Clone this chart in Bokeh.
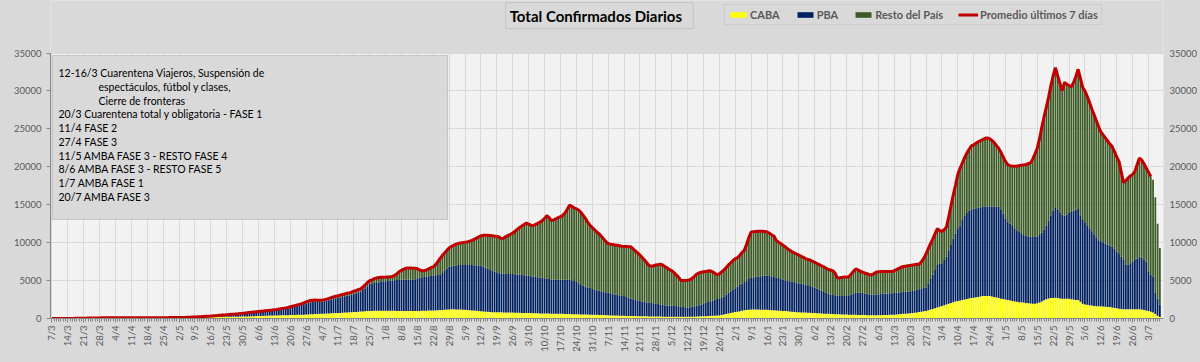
import math
import numpy as np
import pandas as pd
from bokeh.plotting import figure
from bokeh.models import (ColumnDataSource, Range1d, LinearAxis, FixedTicker, Legend, LegendItem,
                          Label, BoxAnnotation, GlobalInlineStyleSheet)
from bokeh.embed import file_html
from bokeh.resources import INLINE

# ---------------- DATA ----------------
fecha_inicio = "2020-03-07"
ultimo_dia_promedio = "2021-07-04"

titulo = "Total  Confirmados  Diarios"
series = ["CABA", "PBA", "Resto del País"]
nombre_promedio = "Promedio últimos 7 días"
valores_eje = [0, 5000, 10000, 15000, 20000, 25000, 30000, 35000]

notas = [
    "12-16/3  Cuarentena Viajeros, Suspensión de",
    "espectáculos, fútbol y clases,",
    "Cierre de fronteras",
    "20/3 Cuarentena total y obligatoria - FASE 1",
    "11/4 FASE 2",
    "27/4 FASE 3",
    "11/5 AMBA FASE 3 - RESTO FASE 4",
    "8/6 AMBA FASE 3 - RESTO FASE 5",
    "1/7 AMBA FASE 1",
    "20/7 AMBA FASE 3",
]

total_confirmados = [
    1, 2, 2, 3, 4, 5, 8,
    10, 12, 16, 20, 25, 30, 35,
    40, 48, 55, 62, 68, 72, 76,
    80, 85, 90, 95, 100, 104, 108,
    110, 112, 110, 108, 112, 110, 110,
    110, 108, 105, 102, 100, 100, 100,
    100, 98, 102, 105, 104, 106, 108,
    110, 112, 115, 118, 120, 124, 127,
    130, 138, 146, 155, 165, 175, 188,
    200, 215, 232, 250, 270, 290, 310,
    330, 352, 375, 400, 425, 450, 475,
    500, 525, 550, 575, 600, 625, 655,
    680, 710, 745, 780, 815, 850, 885,
    920, 955, 990, 1030, 1060, 1080, 1110,
    1150, 1190, 1240, 1290, 1340, 1400, 1470,
    1550, 1620, 1700, 1780, 1860, 1950, 2050,
    2200, 2300, 2380, 2420, 2430, 2420, 2420,
    2430, 2480, 2560, 2650, 2750, 2850, 2950,
    3000, 3080, 3160, 3240, 3320, 3380, 3480,
    3600, 3700, 3820, 3900, 4150, 4450, 4750,
    4980, 5100, 5250, 5350, 5420, 5440, 5450,
    5460, 5480, 5500, 5550, 5700, 5900, 6200,
    6350, 6500, 6630, 6650, 6650, 6640, 6630,
    6550, 6400, 6280, 6300, 6400, 6550, 6720,
    6800, 7100, 7500, 7930, 8300, 8650, 9000,
    9320, 9500, 9650, 9800, 9880, 9950, 10000,
    10050, 10100, 10200, 10300, 10450, 10600, 10750,
    10900, 10960, 10980, 10960, 10940, 10900, 10850,
    10800, 10750, 10530, 10600, 10800, 10950, 11100,
    11270, 11500, 11750, 12000, 12200, 12400, 12570,
    12450, 12300, 12260, 12400, 12550, 12700, 12910,
    13200, 13560, 13300, 12910, 13000, 13150, 13300,
    13430, 13600, 13900, 14400, 14950, 14800, 14600,
    14450, 14300, 14000, 13600, 13200, 12700, 12300,
    12000, 11700, 11400, 11180, 10850, 10500, 10150,
    9880, 9800, 9750, 9700, 9650, 9600, 9530,
    9500, 9480, 9460, 9450, 9200, 8900, 8650,
    8360, 8050, 7700, 7350, 6980, 6900, 6950,
    7050, 7100, 7150, 7050, 6850, 6650, 6450,
    6300, 6050, 5750, 5450, 5030, 5000, 5020,
    5050, 5110, 5300, 5550, 5850, 6000, 6100,
    6150, 6200, 6250, 6280, 6150, 5950, 5760,
    5900, 6150, 6400, 6700, 7060, 7350, 7650,
    7900, 8020, 8350, 8700, 9010, 9800, 10700,
    11400, 11450, 11480, 11500, 11500, 11490, 11480,
    11400, 11250, 11050, 10880, 10310, 10100, 9900,
    9660, 9450, 9200, 9000, 8800, 8650, 8500,
    8350, 8200, 8050, 7900, 7800, 7710, 7550,
    7400, 7250, 7100, 6950, 6800, 6630, 6450,
    6400, 6280, 5950, 5330, 5380, 5420, 5460,
    5480, 5500, 5850, 6200, 6540, 6400, 6250,
    6110, 6000, 5900, 5800, 5760, 5900, 6110,
    6150, 6180, 6200, 6210, 6200, 6200, 6200,
    6300, 6450, 6600, 6750, 6850, 6900, 6950,
    7000, 7050, 7100, 7150, 7150, 7500, 7930,
    8500, 9200, 9880, 10500, 11200, 11830, 11600,
    11480, 11700, 12050, 13400, 14860, 16300, 17600,
    18980, 19800, 20500, 21200, 21800, 22300, 22750,
    22900, 23100, 23300, 23450, 23600, 23750, 23800,
    23710, 23500, 23200, 22800, 22450, 21900, 21300,
    20700, 20280, 20150, 20100, 20060, 20100, 20150,
    20200, 20250, 20300, 20400, 20500, 21000, 21700,
    22450, 23700, 25200, 26600, 27860, 29200, 30700,
    32000, 33060, 32000, 31000, 30030, 31110, 30900,
    30700, 30550, 31100, 31900, 32850, 31700, 30460,
    30000, 29300, 28500, 27650, 26900, 26100, 25300,
    24610, 24200, 23800, 23400, 23000, 22660, 22000,
    21300, 20710, 19300, 17900, 18200, 18500, 18800,
    19000, 19410, 20300, 21150, 20900, 20400, 19850,
    19300, 18700, 18300, 16000, 12500, 9300,
]

caba = [
    1, 1, 1, 2, 2, 2, 3,
    4, 5, 6, 8, 9, 11, 13,
    15, 17, 19, 21, 23, 25, 28,
    30, 31, 32, 33, 34, 35, 35,
    35, 36, 35, 34, 35, 36, 35,
    35, 35, 34, 34, 35, 35, 35,
    35, 36, 38, 40, 41, 43, 44,
    45, 47, 49, 52, 54, 56, 58,
    60, 65, 70, 76, 82, 88, 94,
    100, 110, 120, 130, 140, 150, 160,
    170, 180, 190, 200, 210, 218, 225,
    230, 233, 236, 240, 243, 246, 248,
    250, 260, 270, 280, 295, 305, 318,
    330, 340, 350, 360, 370, 380, 390,
    400, 407, 414, 421, 428, 435, 442,
    450, 460, 470, 480, 490, 500, 510,
    520, 535, 550, 565, 580, 595, 610,
    620, 635, 650, 665, 680, 695, 710,
    720, 740, 760, 780, 800, 820, 835,
    850, 870, 890, 910, 930, 950, 975,
    1000, 1005, 1010, 1015, 1020, 1020, 1020,
    1020, 1018, 1015, 1010, 1008, 1005, 1002,
    1000, 1000, 1000, 1000, 1000, 1000, 1000,
    1000, 1005, 1010, 1020, 1030, 1040, 1045,
    1050, 1070, 1090, 1110, 1130, 1160, 1180,
    1200, 1205, 1210, 1200, 1190, 1180, 1165,
    1150, 1130, 1100, 1070, 1040, 1010, 980,
    950, 920, 900, 880, 860, 840, 830,
    820, 815, 810, 800, 795, 790, 785,
    780, 770, 760, 750, 740, 730, 725,
    720, 710, 700, 690, 680, 670, 660,
    650, 648, 645, 640, 635, 630, 625,
    620, 610, 600, 590, 580, 575, 570,
    560, 550, 540, 530, 520, 515, 505,
    500, 490, 480, 470, 455, 445, 430,
    420, 410, 400, 390, 380, 370, 360,
    350, 345, 340, 330, 320, 315, 305,
    300, 295, 290, 285, 275, 270, 265,
    260, 255, 250, 245, 240, 235, 232,
    230, 228, 226, 224, 222, 221, 220,
    220, 225, 230, 240, 255, 270, 285,
    300, 310, 320, 330, 350, 370, 385,
    400, 450, 520, 590, 660, 740, 800,
    850, 900, 960, 1020, 1080, 1130, 1160,
    1170, 1175, 1175, 1170, 1165, 1160, 1155,
    1150, 1130, 1100, 1080, 1050, 1030, 1010,
    1000, 975, 950, 920, 890, 860, 840,
    820, 805, 790, 775, 760, 745, 735,
    720, 700, 680, 660, 640, 620, 610,
    600, 590, 575, 560, 550, 540, 530,
    520, 510, 500, 490, 480, 470, 460,
    450, 445, 440, 438, 435, 432, 430,
    430, 435, 445, 455, 465, 480, 490,
    500, 520, 550, 580, 610, 640, 665,
    690, 720, 760, 800, 850, 900, 950,
    1000, 1080, 1170, 1260, 1360, 1460, 1560,
    1650, 1750, 1850, 1950, 2050, 2150, 2230,
    2300, 2380, 2450, 2510, 2580, 2650, 2700,
    2750, 2800, 2850, 2900, 2950, 2950, 2950,
    2950, 2900, 2850, 2780, 2700, 2620, 2560,
    2500, 2450, 2400, 2300, 2250, 2200, 2150,
    2150, 2100, 2050, 2000, 1980, 1960, 1950,
    2000, 2100, 2250, 2400, 2550, 2650, 2700,
    2700, 2730, 2700, 2650, 2600, 2600, 2600,
    2600, 2550, 2500, 2450, 2430, 2200, 1950,
    1860, 1800, 1750, 1700, 1650, 1620, 1600,
    1600, 1570, 1540, 1520, 1500, 1450, 1400,
    1350, 1300, 1260, 1230, 1210, 1210, 1210,
    1210, 1210, 1210, 1210, 1180, 1120, 1060,
    1000, 900, 780, 600, 350, 200,
]

pba = [
    0, 1, 1, 1, 2, 2, 3,
    4, 5, 7, 8, 11, 13, 15,
    15, 19, 22, 25, 28, 29, 30,
    30, 32, 34, 36, 38, 40, 42,
    45, 46, 46, 46, 48, 48, 48,
    48, 47, 46, 45, 44, 44, 44,
    44, 43, 44, 45, 45, 46, 47,
    48, 49, 50, 51, 52, 54, 55,
    56, 58, 60, 63, 66, 70, 75,
    80, 85, 92, 99, 107, 116, 125,
    135, 145, 157, 170, 183, 197, 212,
    228, 245, 262, 280, 298, 316, 340,
    365, 385, 410, 435, 455, 475, 495,
    515, 535, 555, 580, 595, 605, 620,
    650, 680, 715, 750, 790, 835, 890,
    960, 1015, 1075, 1135, 1195, 1265, 1345,
    1470, 1540, 1590, 1610, 1600, 1580, 1570,
    1570, 1600, 1660, 1730, 1800, 1880, 1950,
    1990, 2040, 2090, 2140, 2190, 2220, 2290,
    2400, 2470, 2560, 2620, 2820, 3050, 3290,
    3600, 3645, 3660, 3665, 3730, 3800, 3880,
    3900, 3930, 3965, 3990, 4020, 4055, 4080,
    4100, 4110, 4110, 4120, 4130, 4140, 4160,
    4300, 4415, 4440, 4460, 4490, 4520, 4555,
    4600, 4630, 4640, 4650, 4870, 5140, 5420,
    5650, 5695, 5740, 5800, 5870, 5880, 5895,
    5910, 5930, 5950, 5980, 5990, 6010, 6020,
    6000, 5930, 5800, 5670, 5550, 5460, 5370,
    5280, 5165, 5140, 5120, 5105, 5090, 5075,
    5070, 5050, 5030, 5010, 4990, 4970, 4945,
    4880, 4850, 4820, 4790, 4760, 4730, 4700,
    4650, 4600, 4555, 4510, 4475, 4480, 4485,
    4480, 4490, 4510, 4520, 4520, 4475, 4380,
    4240, 4100, 3960, 3820, 3680, 3585, 3525,
    3400, 3310, 3240, 3180, 3125, 3055, 3020,
    2980, 2910, 2850, 2790, 2720, 2650, 2590,
    2600, 2505, 2410, 2320, 2230, 2135, 2075,
    2000, 1945, 1890, 1835, 1805, 1780, 1735,
    1690, 1645, 1600, 1555, 1520, 1485, 1458,
    1470, 1432, 1424, 1396, 1358, 1299, 1250,
    1210, 1255, 1310, 1360, 1425, 1490, 1565,
    1650, 1770, 1860, 1950, 2030, 2110, 2195,
    2280, 2280, 2380, 2560, 2740, 2860, 3000,
    3150, 3300, 3440, 3580, 3720, 3870, 4040,
    4160, 4225, 4285, 4350, 4415, 4470, 4525,
    4500, 4470, 4450, 4400, 4350, 4300, 4240,
    4150, 4075, 4000, 3980, 3960, 3940, 3860,
    3780, 3745, 3710, 3675, 3620, 3555, 3465,
    3380, 3250, 3120, 2990, 2860, 2760, 2640,
    2550, 2510, 2475, 2440, 2430, 2420, 2420,
    2430, 2540, 2650, 2760, 2870, 2910, 2920,
    2900, 2855, 2810, 2762, 2745, 2728, 2730,
    2770, 2785, 2805, 2825, 2835, 2840, 2850,
    2850, 2860, 2870, 2880, 2890, 2900, 2905,
    2910, 2920, 2940, 2960, 3000, 3040, 3080,
    3100, 3520, 4030, 4540, 5040, 5600, 5640,
    5650, 5950, 6300, 6950, 7650, 8350, 8970,
    9500, 9880, 10550, 10990, 11320, 11550, 11700,
    11750, 11750, 11750, 11750, 11750, 11800, 11830,
    11850, 11880, 11910, 11950, 12000, 11780, 11240,
    10630, 10350, 10100, 9900, 9650, 9450, 9250,
    9000, 8900, 8850, 8850, 8820, 8800, 8800,
    8800, 8900, 9050, 9300, 9710, 10250, 10900,
    11500, 11920, 11700, 11350, 11100, 10960, 11100,
    11300, 11500, 11700, 11900, 12000, 11400, 11050,
    10840, 10500, 10150, 9800, 9450, 9080, 8710,
    8600, 8480, 8360, 8230, 8100, 8000, 7800,
    7450, 7200, 6890, 6470, 5850, 5890, 6090,
    6290, 6490, 6690, 6940, 6820, 6680, 6440,
    5200, 4860, 4720, 2780, 2250, 1660,
]

# ---------------- DERIVED ----------------
n = len(total_confirmados)
fechas = pd.date_range(fecha_inicio, periods=n, freq="D")
dia = np.arange(n)
tot = np.array(total_confirmados, dtype=float)
cab = np.array(caba, dtype=float)
pb = np.array(pba, dtype=float)
resto = tot - cab - pb

source = ColumnDataSource(dict(dia=dia, caba=cab, pba=pb, resto=resto, total=tot))
n_prom = int((pd.Timestamp(ultimo_dia_promedio) - pd.Timestamp(fecha_inicio)).days) + 1
src_prom = ColumnDataSource(dict(dia=dia[:n_prom], total=tot[:n_prom]))

semanas = list(range(0, n, 7))
etiquetas = {int(i): f"{fechas[i].day}/{fechas[i].month}" for i in semanas}

# ---------------- LAYOUT / STYLE ----------------
BG = "#d9d9d9"
FONT = "Lato"
GRAY = "#595959"
colores = ["#ffff00", "#002060", "#3b5a26"]

W, H = 1200, 354
BORDE_IZQ, BORDE_INF = 50, 33
ALTO_MARCO = H - BORDE_INF            # frame spans whole height above the x axis
PX_EJE = 268                          # pixels spanned by 0..35000
y_max = valores_eje[-1]
y_tope = y_max * ALTO_MARCO / PX_EJE  # top of frame in data units (header area above 35000)

p = figure(width=W, height=H, title=None,
           x_range=Range1d(-0.6, n + 0.6), y_range=Range1d(0, y_tope),
           output_backend="svg", toolbar_location=None,
           min_border_left=BORDE_IZQ, min_border_right=0, min_border_top=0,
           min_border_bottom=BORDE_INF,
           background_fill_color="#f2f2f2", border_fill_color=BG, outline_line_color=None)
p.stylesheets = [GlobalInlineStyleSheet(css="body { background-color: #d9d9d9; }")]

barras = p.vbar_stack(["caba", "pba", "resto"], x="dia", width=0.78, color=colores,
                      line_color=None, source=source)
linea = p.line("dia", "total", source=src_prom, line_color="#c00000", line_width=3)

# axes
p.xaxis.ticker = FixedTicker(ticks=semanas, minor_ticks=list(range(n)))
p.xaxis.major_label_overrides = etiquetas
p.xaxis.major_label_orientation = math.pi / 2
p.xaxis.axis_line_color = "#868686"
p.xaxis.major_tick_line_color = "#868686"
p.xaxis.minor_tick_line_color = "#868686"
p.xaxis.major_tick_out = 4
p.xaxis.major_tick_in = 0
p.xaxis.minor_tick_out = 3
p.xaxis.minor_tick_in = 0
p.xaxis.major_label_standoff = 3
p.xaxis.major_label_text_font = FONT
p.xaxis.major_label_text_font_size = "9.5px"
p.xaxis.major_label_text_color = GRAY

p.yaxis.ticker = FixedTicker(ticks=valores_eje)
p.yaxis.bounds = (0, y_max)
p.yaxis.axis_line_color = "#868686"
p.yaxis.major_tick_line_color = "#868686"
p.yaxis.major_tick_out = 4
p.yaxis.major_tick_in = 0
p.yaxis.minor_tick_line_color = None
p.yaxis.major_label_standoff = 5
p.yaxis.major_label_text_font = FONT
p.yaxis.major_label_text_font_size = "9.5px"
p.yaxis.major_label_text_color = GRAY

p.extra_y_ranges = {"der": Range1d(0, y_tope)}
eje_der = LinearAxis(y_range_name="der", ticker=FixedTicker(ticks=valores_eje), bounds=(0, y_max),
                     axis_line_color=None, major_tick_line_color=None, minor_tick_line_color=None,
                     major_tick_out=0, minor_tick_out=0,
                     major_label_text_font=FONT, major_label_text_font_size="9.5px",
                     major_label_text_color=GRAY, major_label_standoff=6)
p.add_layout(eje_der, "right")

p.xgrid.grid_line_color = "#d9d9d9"
p.ygrid.grid_line_color = "#d9d9d9"
p.xgrid.grid_line_width = 1
p.ygrid.grid_line_width = 1

# header area (above 35000) painted with the outer background
p.add_layout(BoxAnnotation(bottom=y_max, fill_color=BG, fill_alpha=1, line_color=None,
                           level="annotation"))

# legend
legend = Legend(items=[LegendItem(label=series[0], renderers=[barras[0]]),
                       LegendItem(label=series[1], renderers=[barras[1]]),
                       LegendItem(label=series[2], renderers=[barras[2]]),
                       LegendItem(label=nombre_promedio, renderers=[linea])],
                orientation="horizontal", location=(674, 293),
                glyph_width=20, glyph_height=7, label_standoff=2, spacing=15,
                padding=3, margin=0,
                label_text_font=FONT, label_text_font_size="11px", label_text_font_style="bold",
                label_text_color=GRAY, label_height=13,
                border_line_color="#bfbfbf", border_line_width=1,
                background_fill_color=BG, background_fill_alpha=1)
p.add_layout(legend)

# title box
p.add_layout(Label(x=549, y=303, x_units="screen", y_units="screen", text=titulo,
                   text_align="center", text_baseline="middle",
                   text_font=FONT, text_font_size="15px", text_font_style="bold",
                   text_color="#000000", background_fill_color=BG, background_fill_alpha=1,
                   border_line_color="#c4c4c4", border_line_width=1, padding=4))

# notes box
p.add_layout(BoxAnnotation(left=2, right=397, top=263, bottom=99,
                           left_units="screen", right_units="screen",
                           top_units="screen", bottom_units="screen",
                           fill_color=BG, fill_alpha=1, line_color="#7f7f7f", line_width=1))
sangria = {1, 2}
for i, t in enumerate(notas):
    p.add_layout(Label(x=48 if i in sangria else 8, y=245.5 - 13.75 * i,
                       x_units="screen", y_units="screen", text=t,
                       text_baseline="middle", text_font=FONT, text_font_size="10.5px",
                       text_color="#000000"))

open("out.html", "w").write(file_html(p, INLINE))
